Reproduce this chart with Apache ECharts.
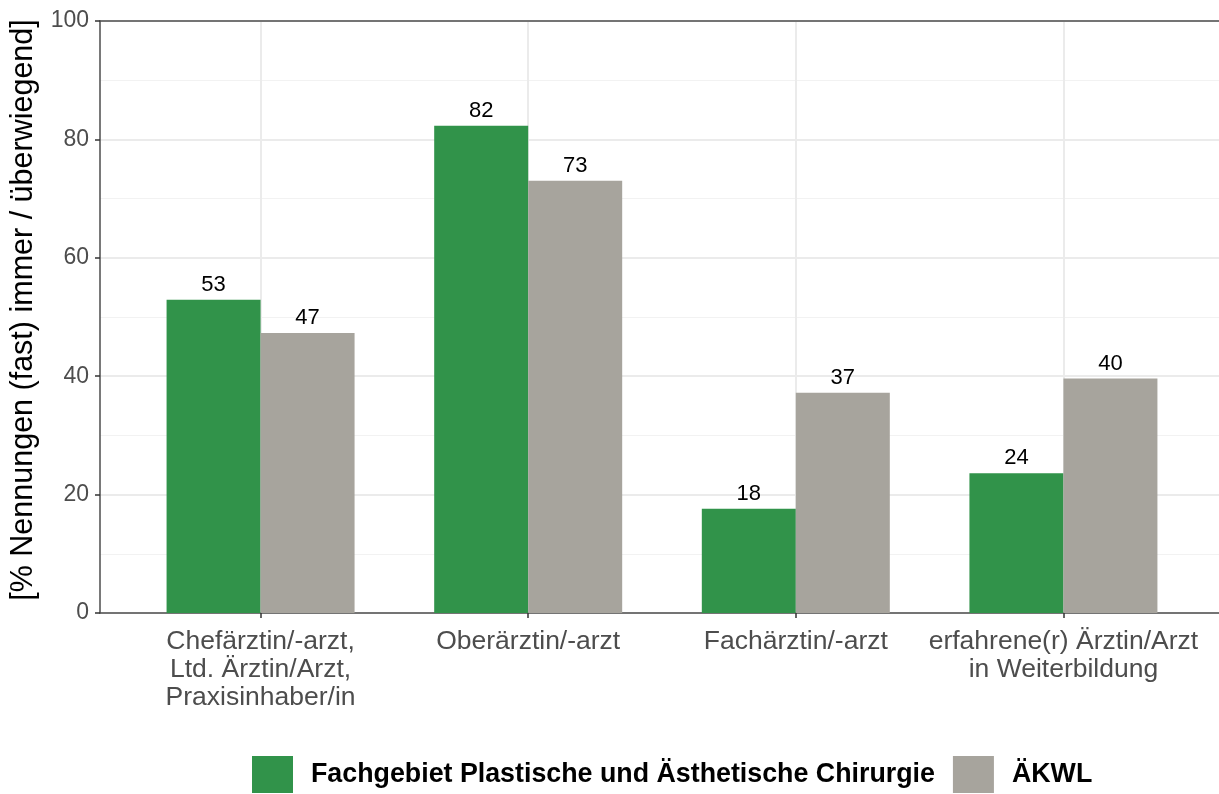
<!DOCTYPE html>
<html><head><meta charset="utf-8">
<script src="https://cdn.jsdelivr.net/npm/echarts@6/dist/echarts.min.js"></script>
<style>html,body{margin:0;padding:0;background:#fff}#c{width:1219px;height:794px}</style>
</head><body><div id="c"></div>
<script>
const categories = ["Chefärztin/-arzt,\nLtd. Ärztin/Arzt,\nPraxisinhaber/in", "Oberärztin/-arzt", "Fachärztin/-arzt", "erfahrene(r) Ärztin/Arzt\nin Weiterbildung"];
const seriesNames = ["Fachgebiet Plastische und Ästhetische Chirurgie", "ÄKWL"];
const valuesPlastisch = [52.9, 82.3, 17.6, 23.6];
const valuesAekwl = [47.3, 73.0, 37.2, 39.6];
const yTicks = [0, 20, 40, 60, 80, 100];
const colors = ["#31934a", "#a7a49d"];

const positions = categories.map((c, i) => i + 1);
const chart = echarts.init(document.getElementById('c'));
const mk = (vals) => vals.map((v, i) => [positions[i], v]);
const font = "'Liberation Sans', Arial, sans-serif";
const labelCfg = {show: true, position: 'top', distance: 4, fontSize: 22, color: '#000', fontFamily: font,
  formatter: p => Math.round(p.value[1])};
chart.setOption({
  animation: false,
  textStyle: {fontFamily: font},
  grid: {left: 100, width: 1124, top: 21, bottom: 181, containLabel: false, outerBoundsMode: 'none'},
  legend: {
    bottom: 1, left: 252, padding: 0, itemWidth: 41, itemHeight: 37, itemGap: 18,
    data: seriesNames,
    textStyle: {fontFamily: font, fontSize: 26.8, fontWeight: 'bold', color: '#000', padding: [0, 0, 0, 13]},
    icon: 'rect'
  },
  xAxis: [{
    type: 'value', min: 0.4, max: 4.6, position: 'bottom',
    axisLine: {show: true, lineStyle: {color: '#4d4d4d', width: 1.5}},
    axisTick: {show: true, customValues: positions, length: 5, lineStyle: {color: '#333', width: 1.5}},
    axisLabel: {show: true, customValues: positions, formatter: v => categories[Math.round(v) - 1] || '',
      fontSize: 26.5, color: '#4d4d4d', lineHeight: 28, margin: 15, fontFamily: font},
    splitLine: {show: true, lineStyle: {color: '#ebebeb', width: 2}},
    minorSplitLine: {show: false}
  }, {
    type: 'value', min: 0.4, max: 4.6, position: 'top',
    axisLine: {show: true, lineStyle: {color: '#4d4d4d', width: 1.5}},
    axisTick: {show: false}, axisLabel: {show: false}, splitLine: {show: false}
  }],
  yAxis: {
    type: 'value', min: yTicks[0], max: yTicks[yTicks.length - 1], interval: 20,
    name: '[% Nennungen (fast) immer / überwiegend]', nameLocation: 'middle', nameGap: 61,
    nameTextStyle: {fontSize: 30.5, color: '#000', fontFamily: font, padding: [0, 0, 0, 14]},
    axisLine: {show: true, lineStyle: {color: '#4d4d4d', width: 1.5}},
    axisTick: {show: true, length: 5, lineStyle: {color: '#333', width: 1.5}},
    axisLabel: {fontSize: 23, color: '#4d4d4d', margin: 11, fontFamily: font},
    splitLine: {lineStyle: {color: '#ebebeb', width: 2}},
    minorTick: {show: false, splitNumber: 2},
    minorSplitLine: {show: true, lineStyle: {color: '#f2f2f2', width: 1}}
  },
  series: [
    {name: seriesNames[0], type: 'bar', data: mk(valuesPlastisch), barWidth: 94, barGap: '0%',
      itemStyle: {color: colors[0]}, label: labelCfg},
    {name: seriesNames[1], type: 'bar', data: mk(valuesAekwl), barWidth: 94, barGap: '0%',
      itemStyle: {color: colors[1]}, label: labelCfg}
  ]
});
</script></body></html>
